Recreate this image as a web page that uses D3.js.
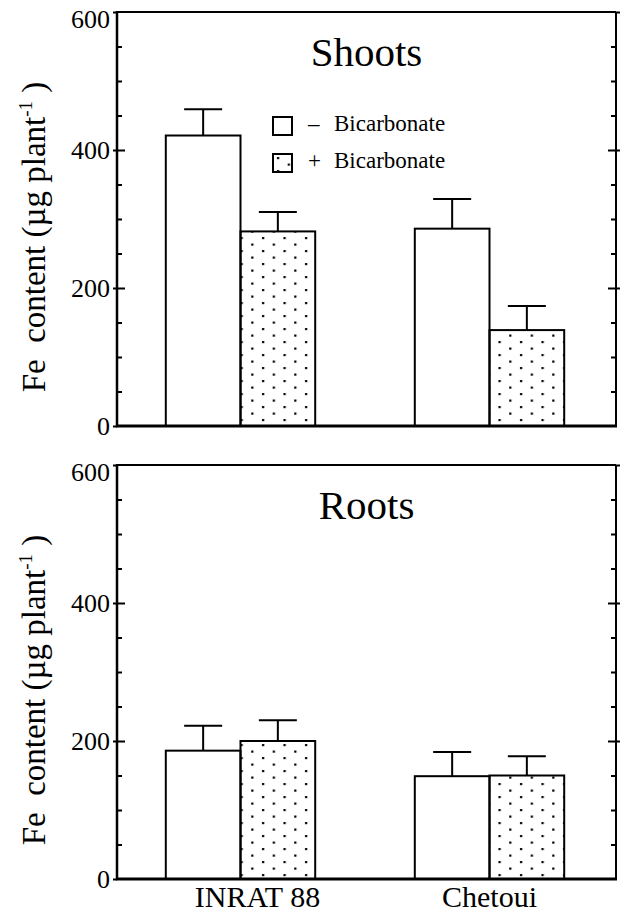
<!DOCTYPE html>
<html>
<head>
<meta charset="utf-8">
<script src="https://cdn.jsdelivr.net/npm/d3@7"></script>
<style>
  body { margin: 0; background: #fff; }
  svg text { font-family: "Liberation Serif", serif !important; fill: #000; }
</style>
</head>
<body>
<script>
// data (Fe content, ug per plant)
const cultivars = ['INRAT 88', 'Chetoui'];
const treatments = ['-', '+'];
const legendLabels = ['\u2013', '+'];
const shootMinus = [421, 286];
const shootMinusErr = [38, 43];
const shootPlus = [282, 139];
const shootPlusErr = [28, 35];
const rootMinus = [186, 149];
const rootMinusErr = [36, 35];
const rootPlus = [200, 150];
const rootPlusErr = [30, 28];
const yTicks = [0, 200, 400, 600];

const W = 621, H = 919;
const left = 117, right = 616;
const serif = '"Liberation Serif", serif';

const svg = d3.select('body')
    .append('svg')
    .attr('width', W)
    .attr('height', H)
    .attr('font-family', serif);

// dotted fill
const defs = svg.append('defs');
const pat = defs.append('pattern')
    .attr('id', 'dots')
    .attr('patternUnits', 'userSpaceOnUse')
    .attr('width', 21.5)
    .attr('height', 13);
pat.append('rect').attr('x', 4).attr('y', 3).attr('width', 2.2).attr('height', 2.2).attr('fill', '#000');
pat.append('rect').attr('x', 14.75).attr('y', 9.5).attr('width', 2.2).attr('height', 2.2).attr('fill', '#000');

const x = d3.scaleBand()
    .domain(cultivars)
    .range([116, 614])
    .paddingInner(0.4)
    .paddingOuter(0.2);

const xs = d3.scaleBand()
    .domain(treatments)
    .range([0, x.bandwidth()]);

function panel(top, bottom, title, minus, minusErr, plus, plusErr, showX) {
    const y = d3.scaleLinear().domain([0, 600]).range([bottom, top]);
    const g = svg.append('g');

    const rows = cultivars.map((c, i) => [
        { c: c, t: '-', v: minus[i], e: minusErr[i] },
        { c: c, t: '+', v: plus[i], e: plusErr[i] }
    ]).flat();

    // bars
    g.selectAll('.bar')
        .data(rows)
        .join('rect')
        .attr('class', 'bar')
        .attr('x', d => x(d.c) + xs(d.t))
        .attr('y', d => y(d.v))
        .attr('width', xs.bandwidth())
        .attr('height', d => y(0) - y(d.v))
        .attr('fill', d => d.t === '+' ? 'url(#dots)' : '#fff')
        .attr('stroke', '#000')
        .attr('stroke-width', 2);

    // error bars
    const capW = 38;
    const cx = d => x(d.c) + xs(d.t) + xs.bandwidth() / 2;
    g.selectAll('.err')
        .data(rows)
        .join('line')
        .attr('class', 'err')
        .attr('x1', cx)
        .attr('x2', cx)
        .attr('y1', d => y(d.v))
        .attr('y2', d => y(d.v + d.e))
        .attr('stroke', '#000')
        .attr('stroke-width', 2);
    g.selectAll('.cap')
        .data(rows)
        .join('line')
        .attr('class', 'cap')
        .attr('x1', d => cx(d) - capW / 2)
        .attr('x2', d => cx(d) + capW / 2)
        .attr('y1', d => y(d.v + d.e))
        .attr('y2', d => y(d.v + d.e))
        .attr('stroke', '#000')
        .attr('stroke-width', 2);

    // frame
    g.append('line').attr('x1', left).attr('x2', right).attr('y1', top).attr('y2', top)
        .attr('stroke', '#000').attr('stroke-width', 2);
    g.append('line').attr('x1', right).attr('x2', right).attr('y1', top).attr('y2', bottom)
        .attr('stroke', '#000').attr('stroke-width', 2);
    g.append('line').attr('x1', left).attr('x2', left).attr('y1', top - 1).attr('y2', bottom)
        .attr('stroke', '#000').attr('stroke-width', 2.5);
    g.append('line').attr('x1', left - 1).attr('x2', right + 1).attr('y1', bottom).attr('y2', bottom)
        .attr('stroke', '#000').attr('stroke-width', 3);

    // ticks: left labels + outer stubs
    const minor = d3.range(50, 600, 50).filter(v => v % 200 !== 0);
    const yl = g.append('g')
        .attr('transform', `translate(${left},0)`)
        .call(d3.axisLeft(y).tickValues(yTicks).tickSize(4).tickPadding(3));
    yl.attr('font-family', serif);
    yl.select('.domain').remove();
    yl.selectAll('line').attr('stroke-width', 2);
    yl.selectAll('text')
        .style('font-size', '26px')
        .style('font-family', serif)
        .attr('dy', d => d === 600 ? '0.6em' : '0.34em');

    g.append('g')
        .attr('transform', `translate(${left},0)`)
        .call(d3.axisRight(y).tickValues(yTicks.slice(1, 3)).tickSize(8).tickFormat(''))
        .call(a => a.select('.domain').remove())
        .selectAll('line').attr('stroke-width', 2);
    g.append('g')
        .attr('transform', `translate(${left},0)`)
        .call(d3.axisRight(y).tickValues(minor).tickSize(5).tickFormat(''))
        .call(a => a.select('.domain').remove())
        .selectAll('line').attr('stroke-width', 2);

    // right side ticks
    g.append('g')
        .attr('transform', `translate(${right},0)`)
        .call(d3.axisLeft(y).tickValues(yTicks.slice(1, 3)).tickSize(8).tickFormat(''))
        .call(a => a.select('.domain').remove())
        .selectAll('line').attr('stroke-width', 2);
    g.append('g')
        .attr('transform', `translate(${right},0)`)
        .call(d3.axisRight(y).tickValues(yTicks.slice(1, 4)).tickSize(4).tickFormat(''))
        .call(a => a.select('.domain').remove())
        .selectAll('line').attr('stroke-width', 2);
    g.append('g')
        .attr('transform', `translate(${right},0)`)
        .call(d3.axisLeft(y).tickValues(minor).tickSize(5).tickFormat(''))
        .call(a => a.select('.domain').remove())
        .selectAll('line').attr('stroke-width', 2);

    // y title
    const yt = g.append('text')
        .attr('transform', `translate(45,${(top + bottom) / 2 + 18}) rotate(-90)`)
        .attr('text-anchor', 'middle')
        .style('font-family', serif)
        .style('font-size', '33px')
        .style('white-space', 'pre');
    yt.append('tspan').text('Fe  content (\u00b5g plant');
    yt.append('tspan').text('-1').style('font-size', '19px').attr('dy', -13);
    yt.append('tspan').text(' )').attr('dy', 13);

    // panel title
    g.append('text')
        .attr('x', (left + right) / 2)
        .attr('y', top + 54)
        .attr('text-anchor', 'middle')
        .style('font-family', serif)
        .style('font-size', '41px')
        .text(title);

    if (showX) {
        const xa = g.append('g')
            .attr('transform', `translate(0,${bottom})`)
            .call(d3.axisBottom(x).tickSize(0).tickPadding(7));
        xa.attr('font-family', serif);
        xa.select('.domain').remove();
        xa.selectAll('text')
            .style('font-size', '30px')
            .style('font-family', serif)
            .attr('dx', (d, i) => i === 0 ? 17 : 0);
    }
    return y;
}

panel(12, 426, 'Shoots', shootMinus, shootMinusErr, shootPlus, shootPlusErr, false);
panel(465, 879, 'Roots', rootMinus, rootMinusErr, rootPlus, rootPlusErr, true);

// legend in the Shoots panel
const leg = svg.append('g').attr('transform', 'translate(273,117)');
const li = leg.selectAll('g')
    .data(treatments)
    .join('g')
    .attr('transform', (d, i) => `translate(0,${i * 37})`);
li.append('rect')
    .attr('width', 19)
    .attr('height', 18)
    .attr('fill', d => d === '+' ? 'url(#dots)' : '#fff')
    .attr('stroke', '#000')
    .attr('stroke-width', 2);
li.append('text')
    .attr('x', 35)
    .attr('y', 14)
    .style('font-family', serif)
    .style('font-size', '23px')
    .text((d, i) => legendLabels[i]);
li.append('text')
    .attr('x', 61)
    .attr('y', 14)
    .style('font-family', serif)
    .style('font-size', '23px')
    .text('Bicarbonate');
</script>
</body>
</html>
